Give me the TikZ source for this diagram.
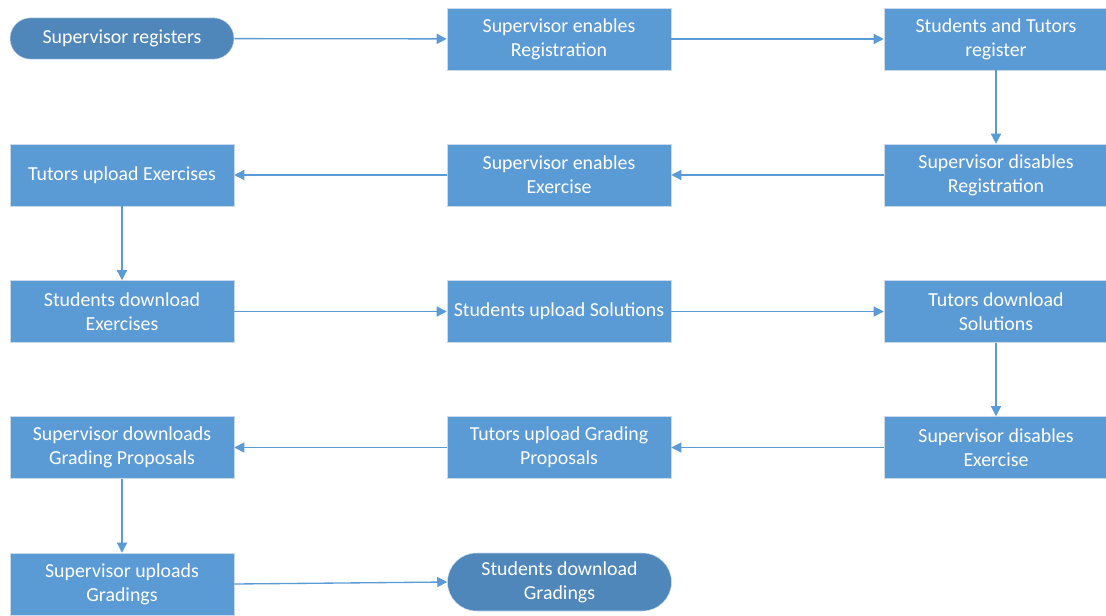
\documentclass[tikz,border=0pt]{standalone}
\usepackage{fontspec}
\setmainfont{Carlito}
\usetikzlibrary{arrows.meta,shapes.misc}
\definecolor{boxblue}{HTML}{5B9BD5}
\definecolor{termblue}{HTML}{4F87BB}
\definecolor{arrowblue}{HTML}{5B9BD5}
\definecolor{edgegray}{HTML}{C9D9EA}
\tikzset{
  stepbox/.style={rectangle, fill=boxblue, draw=edgegray, line width=0.4pt, text=white,
    minimum width=168pt, minimum height=46.5pt, inner sep=0pt, align=center,
    font=\fontsize{14.9pt}{18pt}\selectfont},
  termbox/.style={rounded rectangle, fill=termblue, draw=edgegray, line width=0.4pt, text=white,
    minimum width=168pt, inner sep=0pt, align=center,
    font=\fontsize{14.9pt}{18pt}\selectfont},
  flow/.style={draw=arrowblue, line width=1pt, -{Triangle[length=7.5pt,width=7.5pt]}}
}
\begin{document}
\begin{tikzpicture}[x=0.75pt,y=-0.75pt]
\useasboundingbox (0,0) rectangle (1106,615);
% row 1
\node[termbox, minimum height=31pt] (sr) at (122,38.5) {Supervisor registers};
\node[stepbox] (ser) at (559,39) {Supervisor enables\\Registration};
\node[stepbox] (str) at (996,39) {Students and Tutors\\register};
% row 2
\node[stepbox] (sdr) at (996,175) {Supervisor disables\\Registration};
\node[stepbox] (see) at (559,175) {Supervisor enables\\Exercise};
\node[stepbox] (tue) at (122,175) {Tutors upload Exercises};
% row 3
\node[stepbox] (sde) at (122,311.5) {Students download\\Exercises};
\node[stepbox] (sus) at (559,311.5) {Students upload Solutions};
\node[stepbox] (tds) at (996,311.5) {Tutors download\\Solutions};
% row 4
\node[stepbox] (sdx) at (996,447.5) {Supervisor disables\\Exercise};
\node[stepbox] (tug) at (559,447.5) {Tutors upload Grading\\Proposals};
\node[stepbox] (sdg) at (122,447.5) {Supervisor downloads\\Grading Proposals};
% row 5
\node[stepbox] (sug) at (122,584) {Supervisor uploads\\Gradings};
\node[termbox, minimum height=43.5pt] (sdgr) at (559.5,582) {Students download\\Gradings};
% connectors
\draw[flow] (sr) -- (ser);
\draw[flow] (ser) -- (str);
\draw[flow] (str) -- (sdr);
\draw[flow] (sdr) -- (see);
\draw[flow] (see) -- (tue);
\draw[flow] (tue) -- (sde);
\draw[flow] (sde) -- (sus);
\draw[flow] (sus) -- (tds);
\draw[flow] (tds) -- (sdx);
\draw[flow] (sdx) -- (tug);
\draw[flow] (tug) -- (sdg);
\draw[flow] (sdg) -- (sug);
\draw[flow] (sug.east) -- (sdgr.west);
\end{tikzpicture}
\end{document}
